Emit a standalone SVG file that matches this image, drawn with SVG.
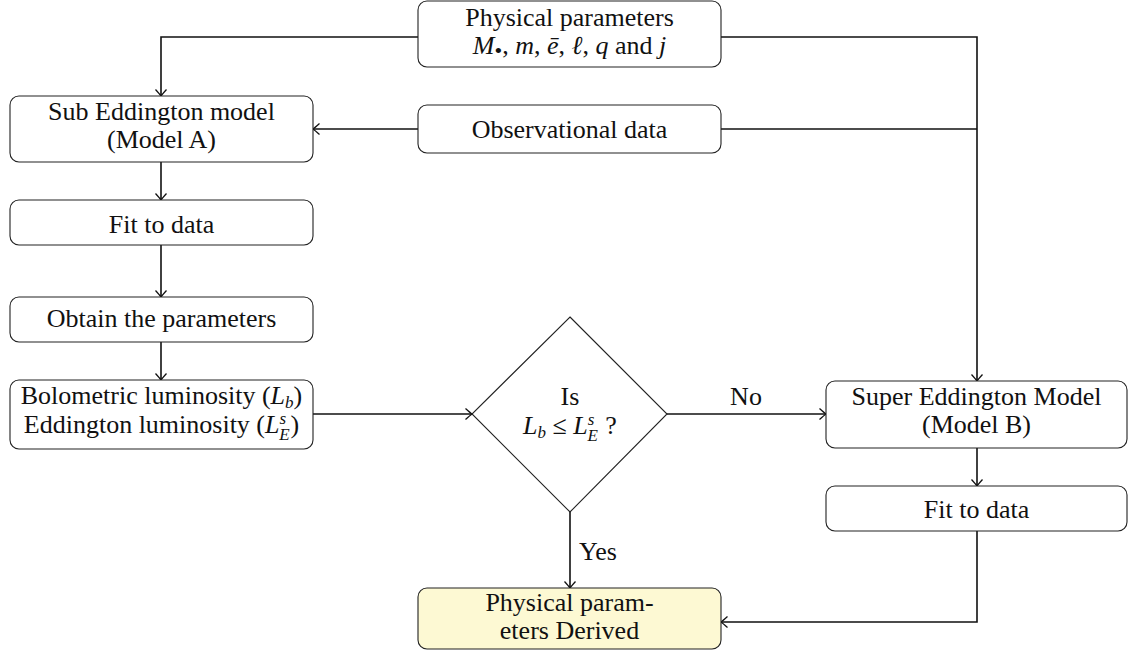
<svg xmlns="http://www.w3.org/2000/svg" width="1128" height="654" viewBox="0 0 1128 654">
<style>
.box{fill:#fff;stroke:#222;stroke-width:1.1}
.t{font-family:'Liberation Serif','Times New Roman',serif;font-size:26px;fill:#111;text-anchor:middle}
.i{font-style:italic}
.s{font-size:17px}
.c{fill:none;stroke:#111;stroke-width:1.6}
</style>
<defs>
<marker id="a" viewBox="-8 -6 10 12" refX="0" refY="0" markerWidth="10" markerHeight="12" markerUnits="userSpaceOnUse" orient="auto">
<path d="M-6.5,-5.5 Q-1.5,-1 0,0 Q-1.5,1 -6.5,5.5" fill="none" stroke="#111" stroke-width="1.3"/>
</marker>
</defs>
<g id="connectors">
<path class="c" d="M418,37 H161 V96" marker-end="url(#a)"/>
<path class="c" d="M721,37 H977 V381" marker-end="url(#a)"/>
<path class="c" d="M721,129 H977"/>
<path class="c" d="M418,129 H313" marker-end="url(#a)"/>
<path class="c" d="M161,162 V200" marker-end="url(#a)"/>
<path class="c" d="M161,245 V297" marker-end="url(#a)"/>
<path class="c" d="M161,342 V380" marker-end="url(#a)"/>
<path class="c" d="M313,414 H472" marker-end="url(#a)"/>
<path class="c" d="M667,414 H826" marker-end="url(#a)"/>
<text class="t" x="746" y="405">No</text>
<path class="c" d="M977,448 V486" marker-end="url(#a)"/>
<path class="c" d="M570,512 V588" marker-end="url(#a)"/>
<text class="t" x="598" y="560">Yes</text>
<path class="c" d="M977,531 V622 H721" marker-end="url(#a)"/>
</g>
<g id="physical">
<rect class="box" x="418" y="1" width="303" height="66" rx="9"/>
<text class="t" x="569.5" y="26">Physical parameters</text>
<text class="t" x="569.5" y="54"><tspan class="i">M</tspan><tspan font-size="22" dy="4">•</tspan><tspan dy="-4">, </tspan><tspan class="i">m</tspan>, <tspan class="i">ē</tspan>, <tspan class="i">ℓ</tspan>,  <tspan class="i">q</tspan> and <tspan class="i">j</tspan></text>
</g>
<g id="subEddington">
<rect class="box" x="10" y="96" width="303" height="66" rx="9"/>
<text class="t" x="161.5" y="120">Sub Eddington model</text>
<text class="t" x="161.5" y="148">(Model A)</text>
</g>
<g id="observational">
<rect class="box" x="418" y="105" width="303" height="48" rx="9"/>
<text class="t" x="569.5" y="138">Observational data</text>
</g>
<g id="fitA">
<rect class="box" x="10" y="200" width="303" height="45" rx="9"/>
<text class="t" x="161.5" y="233">Fit to data</text>
</g>
<g id="obtain">
<rect class="box" x="10" y="297" width="303" height="45" rx="9"/>
<text class="t" x="161.5" y="327">Obtain the parameters</text>
</g>
<g id="luminosity">
<rect class="box" x="10" y="380" width="303" height="69" rx="9"/>
<text class="t" x="161.5" y="404">Bolometric luminosity (<tspan class="i">L</tspan><tspan class="s i" dy="4">b</tspan><tspan dy="-4">)</tspan></text>
<text class="t" x="161.5" y="433">Eddington luminosity (<tspan class="i">L</tspan><tspan class="s i" dy="-9">s</tspan><tspan class="s i" dx="-7" dy="16">E</tspan><tspan dx="1" dy="-7">)</tspan></text>
</g>
<g id="decision">
<polygon points="570,317 667,414 570,512 472,414" fill="#fff" stroke="#222" stroke-width="1.1"/>
<text class="t" x="570" y="405">Is</text>
<text class="t" x="570" y="434"><tspan class="i">L</tspan><tspan class="s i" dy="4">b</tspan><tspan dy="-4"> ≤ </tspan><tspan class="i">L</tspan><tspan class="s i" dy="-9">s</tspan><tspan class="s i" dx="-7" dy="16">E</tspan><tspan dx="1" dy="-7"> ?</tspan></text>
</g>
<g id="superEddington">
<rect class="box" x="826" y="381" width="301" height="67" rx="9"/>
<text class="t" x="976.5" y="405">Super Eddington Model</text>
<text class="t" x="976.5" y="433">(Model B)</text>
</g>
<g id="fitB">
<rect class="box" x="826" y="486" width="301" height="45" rx="9"/>
<text class="t" x="976.5" y="518">Fit to data</text>
</g>
<g id="derived">
<rect x="418" y="588" width="303" height="61" rx="9" fill="#fdf9d3" stroke="#222" stroke-width="1.1"/>
<text class="t" x="569.5" y="611">Physical param-</text>
<text class="t" x="569.5" y="639">eters Derived</text>
</g>
</svg>
